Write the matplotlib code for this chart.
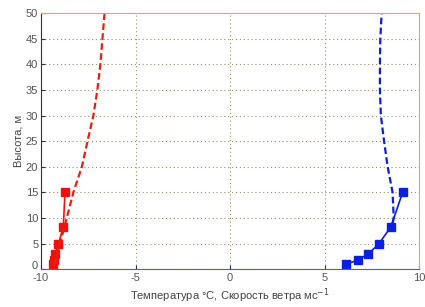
import matplotlib
matplotlib.use('Agg')
import matplotlib.pyplot as plt
import matplotlib.transforms as mtransforms

# measured profiles
h_obs = [1.0, 1.8, 2.9, 4.9, 8.3, 15.0]
t_obs = [-9.35, -9.3, -9.25, -9.08, -8.82, -8.73]
u_obs = [6.16, 6.75, 7.28, 7.86, 8.51, 9.13]

# model profiles
h_t_mod = [1, 5, 10, 15, 20, 25, 30, 35, 40, 45, 50]
t_mod = [-9.3, -8.99, -8.64, -8.29, -7.84, -7.54, -7.23, -7.02, -6.86, -6.75, -6.64]
h_u_mod = [9, 10, 15, 20, 25, 30, 35, 40, 45, 50]
u_mod = [8.6, 8.66, 8.6, 8.34, 8.15, 7.98, 7.93, 7.93, 7.95, 8.02]

plt.rcParams['font.family'] = ['Liberation Sans', 'DejaVu Sans']
plt.rcParams['axes.unicode_minus'] = False

fig = plt.figure(figsize=(4.25, 3.07), dpi=100)
ax = fig.add_axes([0.0965, 0.1228, 0.8895, 0.834])

ax.plot(t_obs, h_obs, '-s', color='#f01010', lw=1.2, ms=5.5)
ax.plot(t_mod, h_t_mod, '--', color='#e82010', lw=1.6, dashes=(3, 1.5))
ax.plot(u_obs, h_obs, '-s', color='#0a20e0', lw=1.2, ms=5.5)
ax.plot(u_mod, h_u_mod, '--', color='#0a20e0', lw=1.6, dashes=(3, 1.5))

ax.set_xlim(-10, 10)
ax.set_ylim(0, 50)
ax.set_xticks([-10, -5, 0, 5, 10])
ax.set_yticks(range(0, 51, 5))
ax.grid(True, linestyle=(0, (1, 2.5)), color='#9a9070', lw=0.8)
ax.tick_params(direction='in', labelsize=8, labelcolor='#555555', length=3, color='#333333')
ax.tick_params(axis='x', pad=3)
ax.tick_params(axis='y', pad=2)

# raise the "0" label on the y axis a bit, as in the original
lbl0 = ax.get_yticklabels()[0]
lbl0.set_transform(lbl0.get_transform() + mtransforms.ScaledTranslation(0, 3 / 72, fig.dpi_scale_trans))

ax.spines['top'].set_color('#c8b070')
ax.spines['bottom'].set_color('#8a4a8a')
ax.spines['left'].set_color('#333333')
ax.spines['right'].set_color('#c8b070')

ax.set_xlabel('Температура °С, Скорость ветра мс$^{-1}$', fontsize=8, color='#444444', labelpad=2)
ax.set_ylabel('Высота, м', fontsize=8, color='#444444', labelpad=2)

fig.savefig('out.png', dpi=100)
